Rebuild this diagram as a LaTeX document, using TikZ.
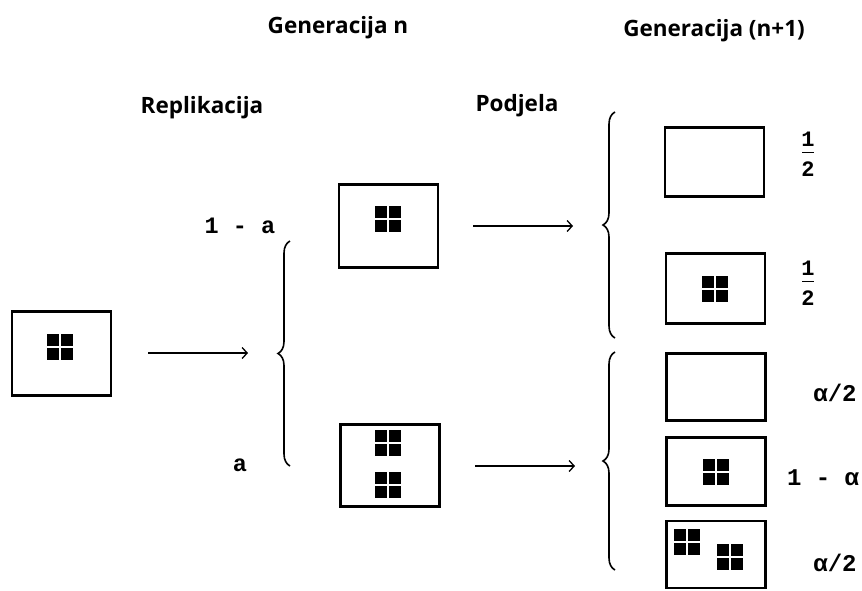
\documentclass[tikz,border=0pt]{standalone}
\usepackage{fontspec}
\setmainfont{Open Sans}
\newfontfamily\headfont{Open Sans}
\newfontfamily\monofont{Liberation Mono}
\usetikzlibrary{arrows.meta,decorations.pathreplacing}
\begin{document}
\begin{tikzpicture}[x=1pt,y=-1pt,
  cell/.style={draw,line width=2.9pt,minimum width=#1,inner sep=0pt,outer sep=0pt},
  cell/.default=99pt,
  head/.style={font=\headfont\bfseries\fontsize{22.5}{26}\selectfont,inner sep=0pt},
  lab/.style={font=\monofont\bfseries\fontsize{23.5}{24}\selectfont,inner sep=0pt},
  alab/.style={font=\monofont\bfseries\fontsize{24}{24}\selectfont,inner sep=0pt},
  frac/.style={font=\monofont\bfseries\fontsize{22}{14}\selectfont,align=center,inner sep=0pt},
  arr/.style={line width=1.3pt,-{Straight Barb[length=5pt,width=11pt,line width=1.3pt]}},
  brc/.style={line width=1.6pt,decorate,decoration={brace,amplitude=12pt}},
  pics/tetra/.style={code={
    \fill (-13,-13) rectangle (-1,-1);
    \fill (1,-13) rectangle (13,-1);
    \fill (-13,1) rectangle (-1,13);
    \fill (1,1) rectangle (13,13);}}]
\useasboundingbox (0,0) rectangle (862,590);

% headings
\node[head] (gn) at (338,28) {Generacija n};
\node[head] (gn1) at (714,31) {Generacija (n+1)};
\node[head] (rep) at (202,108) {Replikacija};
\node[head] (pod) at (517,106) {Podjela};

% left cell
\node[cell, minimum height=84pt] (c0) at (61.5,353.5) {};
\pic at (60,347) {tetra};

% generation n
\node[cell, minimum height=83pt] (ct) at (388.5,226) {};
\pic at (388,219) {tetra};
\node[cell, minimum height=82pt] (cb) at (390,465.5) {};
\pic at (388,443) {tetra};
\pic at (388,485) {tetra};

% generation n+1
\node[cell, minimum height=69pt] (r1) at (714.5,162) {};
\node[cell, minimum height=70pt] (r2) at (715.5,288.5) {};
\pic at (715,289) {tetra};
\node[cell, minimum height=67pt] (r3) at (716,387) {};
\node[cell, minimum height=68pt] (r4) at (716,471.5) {};
\pic at (715.5,471.5) {tetra};
\node[cell, minimum height=67pt] (r5) at (716,554.5) {};
\pic at (687,541.5) {tetra};
\pic at (730,556.5) {tetra};

% arrows
\coordinate (a1s) at (148,353); \coordinate (a1e) at (248,353);
\coordinate (a2s) at (473,226); \coordinate (a2e) at (573,226);
\coordinate (a3s) at (475,466); \coordinate (a3e) at (575,466);
\draw[arr] (a1s) -- (a1e);
\draw[arr] (a2s) -- (a2e);
\draw[arr] (a3s) -- (a3e);

% braces
\coordinate (b1t) at (290,241); \coordinate (b1b) at (290,466);
\coordinate (b2t) at (615,112); \coordinate (b2b) at (615,338);
\coordinate (b3t) at (615,352); \coordinate (b3b) at (615,570);
\draw[brc] (b1b) -- (b1t);
\draw[brc] (b2b) -- (b2t);
\draw[brc] (b3b) -- (b3t);

% labels
\node[lab] (l1a) at (240,226) {1 - a};
\node[lab] (la) at (240,465) {a};
\node[frac] (h1) at (808,154) {1\\\rule[7pt]{12pt}{1.7pt}\\2};
\node[frac] (h2) at (808,283) {1\\\rule[7pt]{12pt}{1.7pt}\\2};
\node[alab] (q1) at (835,393) {α/2};
\node[alab] (q2) at (823,478) {1 - α};
\node[alab] (q3) at (835,563) {α/2};
\end{tikzpicture}
\end{document}
